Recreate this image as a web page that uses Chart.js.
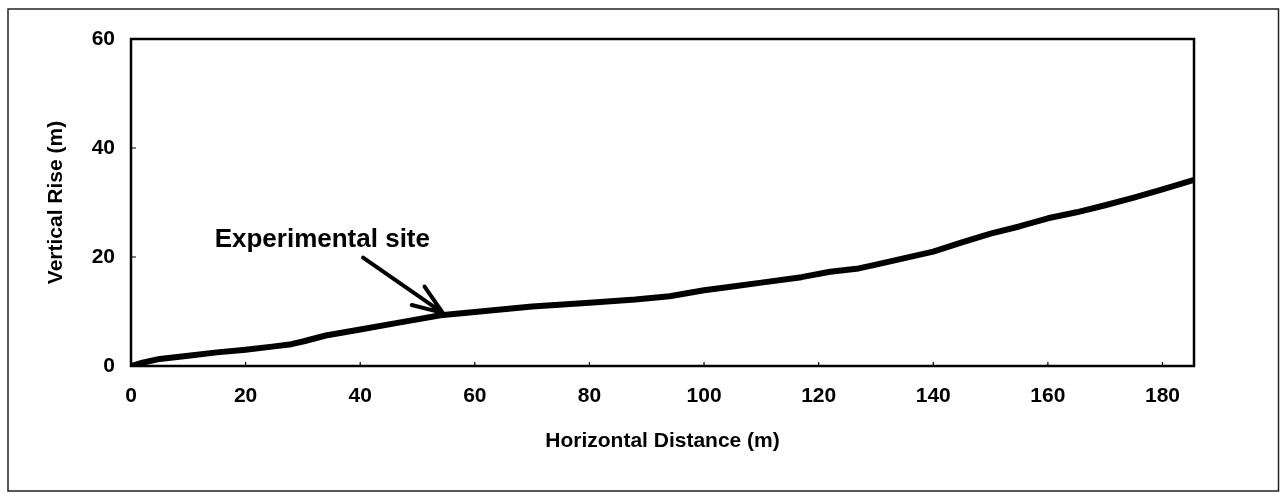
<!DOCTYPE html>
<html>
<head>
<meta charset="utf-8">
<script src="https://cdn.jsdelivr.net/npm/chart.js@4/dist/chart.umd.min.js"></script>
<style>
  body { margin: 0; background: #fff; }
  canvas { display: block; }
</style>
</head>
<body>
<canvas id="myChart" width="1280" height="494"></canvas>
<script>
// horizontal distance (m) and vertical rise (m)
const distance = [0, 2, 5, 10, 15, 20, 25, 28, 30, 34, 40, 47, 54, 60, 65, 70, 80, 88, 94,
  100, 105, 110, 117, 122, 127, 130, 135, 140, 145, 150, 155, 160, 165, 170, 175, 180, 185.4]
const rise = [0, 0.6, 1.3, 1.9, 2.5, 3.0, 3.6, 4.0, 4.5, 5.6, 6.7, 8.0, 9.3, 9.9, 10.4, 10.9, 11.6, 12.2, 12.8,
  13.9, 14.6, 15.3, 16.3, 17.3, 17.9, 18.6, 19.8, 21.0, 22.7, 24.3, 25.6, 27.1, 28.2, 29.5, 30.9, 32.4, 34.1]

const x_ticks = [0, 20, 40, 60, 80, 100, 120, 140, 160, 180]
const y_ticks = [0, 20, 40, 60]

const note_text = "Experimental site"
const note_at = {x: 14.6, y: 23.2}        // left edge of the label, in data units
const arrow_from = {x: 40.5, y: 19.9}
const arrow_to = {x: 54.4, y: 9.75}

const FONT = "'Liberation Sans', Arial, Helvetica, sans-serif"

let points = distance.map((d, i) => ({x: d, y: rise[i]}))

// frame, inner ticks and the arrow note
const decorations = {
    id: 'decorations',
    afterDraw(chart){
        const ctx = chart.ctx
        const a = chart.chartArea
        const xs = chart.scales.x
        const ys = chart.scales.y
        ctx.save()

        // outer border of the figure
        ctx.strokeStyle = "#222"
        ctx.lineWidth = 1.5
        ctx.strokeRect(8, 9, 1270.5, 482)

        // plot box
        ctx.strokeStyle = "#000"
        ctx.lineWidth = 2.5
        ctx.strokeRect(a.left, a.top, a.right - a.left, a.bottom - a.top)

        // small ticks pointing inside
        ctx.lineWidth = 1.2
        ctx.beginPath()
        for(let t of x_ticks){
            let px = xs.getPixelForValue(t)
            ctx.moveTo(px, a.bottom)
            ctx.lineTo(px, a.bottom - 4)
        }
        for(let t of y_ticks){
            let py = ys.getPixelForValue(t)
            ctx.moveTo(a.left, py)
            ctx.lineTo(a.left + 5, py)
        }
        ctx.stroke()

        // note text
        ctx.fillStyle = "#000"
        ctx.font = "bold 26px " + FONT
        ctx.textAlign = "left"
        ctx.textBaseline = "middle"
        ctx.fillText(note_text, xs.getPixelForValue(note_at.x), ys.getPixelForValue(note_at.y))

        // arrow
        let x0 = xs.getPixelForValue(arrow_from.x), y0 = ys.getPixelForValue(arrow_from.y)
        let x1 = xs.getPixelForValue(arrow_to.x), y1 = ys.getPixelForValue(arrow_to.y)
        let ang = Math.atan2(y1 - y0, x1 - x0)
        let head = 32, spread = 0.36
        ctx.lineWidth = 4
        ctx.lineCap = "round"
        ctx.beginPath()
        ctx.moveTo(x0, y0)
        ctx.lineTo(x1, y1)
        ctx.moveTo(x1 - head * Math.cos(ang - spread), y1 - head * Math.sin(ang - spread))
        ctx.lineTo(x1, y1)
        ctx.lineTo(x1 - head * Math.cos(ang + spread), y1 - head * Math.sin(ang + spread))
        ctx.stroke()

        ctx.restore()
    }
}

const ctx = document.getElementById('myChart').getContext('2d')

new Chart(ctx, {
    type: 'line',
    data: {
        datasets: [{
            data: points,
            borderColor: "#000",
            borderWidth: 6,
            pointRadius: 0,
            tension: 0,
            fill: false,
            borderCapStyle: "round",
            borderJoinStyle: "round"
        }]
    },
    options: {
        responsive: false,
        animation: false,
        devicePixelRatio: 1,
        layout: {
            padding: {left: 0, top: 39, right: 86, bottom: 0}
        },
        plugins: {
            legend: {display: false},
            tooltip: {enabled: false}
        },
        scales: {
            x: {
                type: 'linear',
                min: 0,
                max: 185.5,
                afterFit: (scale) => { scale.height = 128 },
                afterBuildTicks: (scale) => { scale.ticks = x_ticks.map(v => ({value: v})) },
                grid: {display: false, drawTicks: false},
                border: {display: false},
                ticks: {
                    padding: 18,
                    color: "#000",
                    maxRotation: 0,
                    font: {family: FONT, size: 21, weight: 'bold'}
                },
                title: {
                    display: true,
                    text: "Horizontal Distance (m)",
                    color: "#000",
                    padding: {top: 0, bottom: 40},
                    font: {family: FONT, size: 21, weight: 'bold'}
                }
            },
            y: {
                type: 'linear',
                min: 0,
                max: 60,
                afterFit: (scale) => { scale.width = 131 },
                afterBuildTicks: (scale) => { scale.ticks = y_ticks.map(v => ({value: v})) },
                grid: {display: false, drawTicks: false},
                border: {display: false},
                ticks: {
                    padding: 16,
                    color: "#000",
                    font: {family: FONT, size: 21, weight: 'bold'}
                },
                title: {
                    display: true,
                    text: "Vertical Rise (m)",
                    color: "#000",
                    padding: {top: 44, bottom: 0},
                    font: {family: FONT, size: 21, weight: 'bold'}
                }
            }
        }
    },
    plugins: [decorations]
})
</script>
</body>
</html>
